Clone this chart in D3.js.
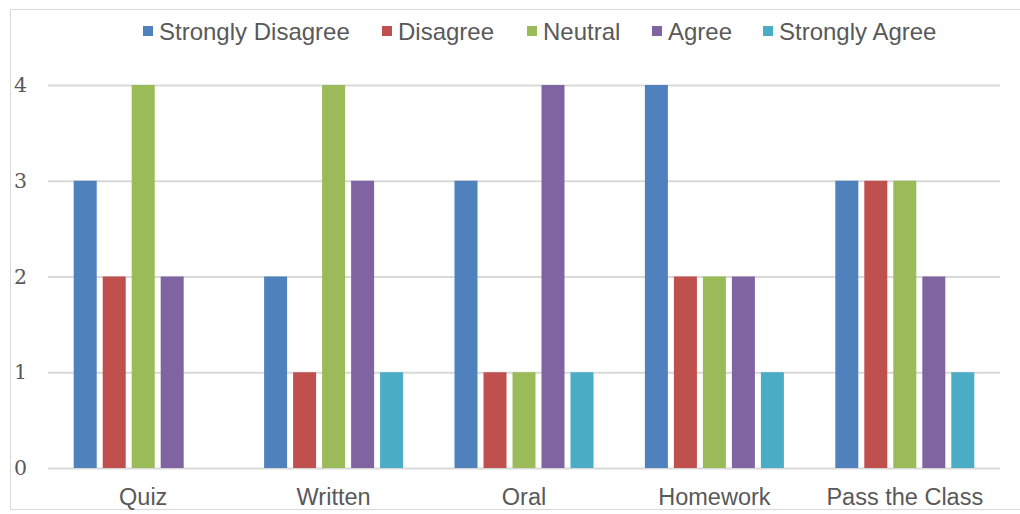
<!DOCTYPE html>
<html><head><meta charset="utf-8">
<script src="https://cdn.jsdelivr.net/npm/d3@7"></script>
<style>body{margin:0;background:#fff}svg{display:block}</style>
</head><body>
<script>
const categories = ["Quiz","Written","Oral","Homework","Pass the Class"];
const seriesNames = ["Strongly Disagree","Disagree","Neutral","Agree","Strongly Agree"];
const stronglyDisagree = [3,2,3,4,3];
const disagree = [2,1,1,2,3];
const neutral = [4,4,1,2,3];
const agree = [2,3,4,2,2];
const stronglyAgree = [0,1,1,1,1];
const yTicks = [0,1,2,3,4];
const colors = ["#4F81BD","#C0504D","#9BBB59","#8064A2","#4BACC6"];
const seriesValues = [stronglyDisagree, disagree, neutral, agree, stronglyAgree];

(function(){
const W = 1020, H = 514;
const svg = d3.select("body").append("svg").attr("width", W).attr("height", H);
svg.append("rect").attr("x",10.5).attr("y",9.5).attr("width",1030).attr("height",500)
  .attr("fill","none").attr("stroke","#d9d9d9").attr("stroke-width",1);

const mLeft = 48, mRight = 1000, mTop = 85, mBottom = 468;
const x0 = d3.scaleBand().domain(categories).range([mLeft,mRight]).paddingInner(0).paddingOuter(0);
const x1 = d3.scaleBand().domain(seriesNames).range([0, 139]).paddingInner(6/29).paddingOuter(0);
const y = d3.scaleLinear().domain([0,4]).range([mBottom, mTop]);

const yAxis = d3.axisLeft(y).tickValues(yTicks).tickSize(-(mRight-mLeft)).tickFormat(d3.format("d"));
const gy = svg.append("g").attr("transform",`translate(${mLeft},0)`).call(yAxis);
gy.select(".domain").remove();
gy.selectAll(".tick line").attr("stroke","#d9d9d9").attr("stroke-width",2);
gy.selectAll(".tick text").attr("x",-21).attr("text-anchor","end")
  .attr("font-family","'DejaVu Serif', serif").attr("font-size",20.5).attr("fill","#595959");

const groupW = 4*x1.step()+x1.bandwidth();
const groups = svg.append("g").selectAll("g").data(categories).join("g")
  .attr("transform", d => `translate(${x0(d) + (x0.bandwidth() - groupW)/2},0)`);
groups.selectAll("rect").data((c,i) => seriesNames.map((s,j)=>({s, v: seriesValues[j][i], j})))
  .join("rect")
  .attr("x", d => x1(d.s)).attr("width", x1.bandwidth())
  .attr("y", d => y(d.v)).attr("height", d => y(0)-y(d.v))
  .attr("fill", d => colors[d.j]);

const xAxis = d3.axisBottom(x0).tickSize(0);
const gx = svg.append("g").attr("transform",`translate(0,${mBottom})`).call(xAxis);
gx.select(".domain").remove();
gx.selectAll(".tick text").attr("dy",0).attr("y",37)
  .attr("font-family","'Liberation Sans', Arial, sans-serif").attr("font-size",23.5).attr("fill","#595959");

const legendX = [143, 382, 527, 652, 763];
const lg = svg.append("g").selectAll("g").data(seriesNames).join("g")
  .attr("transform",(d,i)=>`translate(${legendX[i]},0)`);
lg.append("rect").attr("x",0).attr("y",26).attr("width",10).attr("height",10).attr("fill",(d,i)=>colors[i]);
lg.append("text").attr("x",16).attr("y",39.5).text(d=>d)
  .attr("font-family","'Liberation Sans', Arial, sans-serif").attr("font-size",24).attr("fill","#595959");
})();
</script>
</body></html>
